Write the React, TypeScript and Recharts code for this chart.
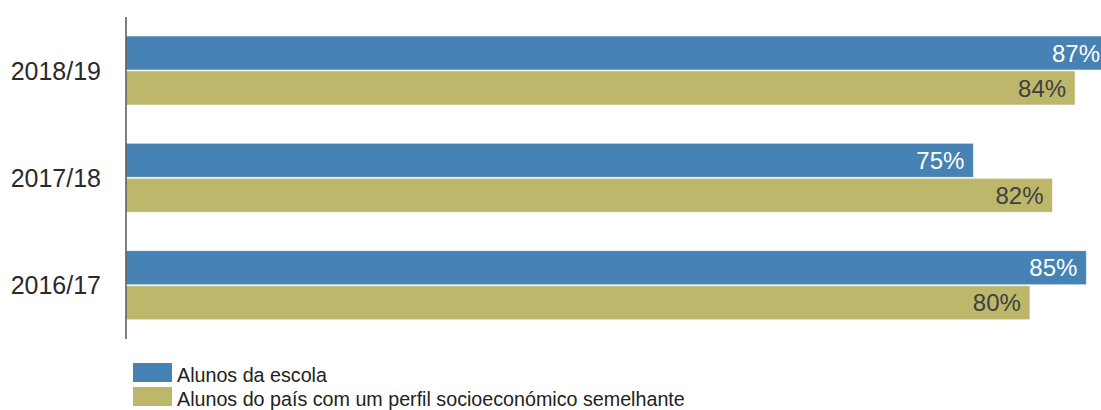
import React from 'react';
import { BarChart, Bar, XAxis, YAxis, Legend, LabelList } from 'recharts';

const categories = ['2018/19', '2017/18', '2016/17'];
const schoolValues = [87, 75, 85];
const peerValues = [84, 82, 80];
const seriesNames = ['Alunos da escola', 'Alunos do país com um perfil socioeconómico semelhante'];
const seriesColors = ['#4682b4', '#bdb76b'];

const data = categories.map((c, i) => ({ category: c, school: schoolValues[i], peers: peerValues[i] }));

const FONT = '"Liberation Sans", Arial, sans-serif';

const renderLegend = (props: any) => {
  const { payload } = props;
  return (
    <div style={{ fontFamily: FONT }}>
      {(payload || []).map((entry: any, i: number) => (
        <div key={i} style={{ display: 'flex', alignItems: 'flex-start', height: 24 }}>
          <div style={{ width: 39, height: 19, background: entry.color, marginRight: 5, flexShrink: 0 }} />
          <span style={{ fontSize: 19.7, lineHeight: '22px', marginTop: 1, color: '#222', whiteSpace: 'nowrap' }}>{entry.value}</span>
        </div>
      ))}
    </div>
  );
};

export default function App() {
  return (
    <div style={{ width: 1101, height: 410, overflow: 'hidden', background: '#fff', position: 'relative' }}>
      <style>{'html,body{margin:0;padding:0;overflow:hidden;}'}</style>
      <BarChart
        width={1109}
        height={410}
        data={data}
        layout="vertical"
        margin={{ top: 17, right: 0, bottom: 71, left: 0 }}
        barSize={34}
        barGap={1}
      >
        <XAxis type="number" hide domain={[0, 'dataMax']} />
        <YAxis
          type="category"
          dataKey="category"
          width={126}
          tickSize={0}
          tickMargin={25}
          tickLine={false}
          axisLine={{ stroke: '#555', strokeWidth: 1.5 }}
          tick={{ fill: '#2a2a2a', fontSize: 25, fontFamily: FONT }}
        />
        <Legend
          layout="vertical"
          align="center"
          verticalAlign="middle"
          content={renderLegend}
          wrapperStyle={{ top: 363, left: 133, width: 700 }}
        />
        <Bar dataKey="school" name={seriesNames[0]} fill={seriesColors[0]} stroke="#ffffff" strokeOpacity={0.55} strokeWidth={1} isAnimationActive={false}>
          <LabelList dataKey="school" position="insideRight" offset={9} formatter={(v: any) => `${v}%`} fill="#ffffff" fontSize={24} fontFamily={FONT} />
        </Bar>
        <Bar dataKey="peers" name={seriesNames[1]} fill={seriesColors[1]} stroke="#ffffff" strokeOpacity={0.55} strokeWidth={1} isAnimationActive={false}>
          <LabelList dataKey="peers" position="insideRight" offset={9} formatter={(v: any) => `${v}%`} fill="#404040" fontSize={24} fontFamily={FONT} />
        </Bar>
      </BarChart>
    </div>
  );
}
